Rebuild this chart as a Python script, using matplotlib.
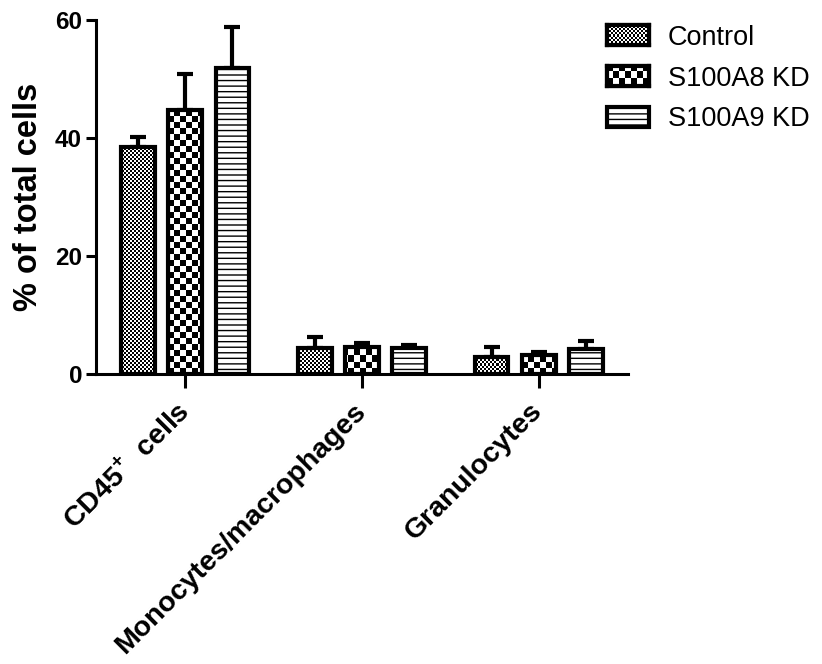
import numpy as np
import matplotlib
matplotlib.use("Agg")
from matplotlib import pyplot as plt
from matplotlib.patches import Patch

plt.rcParams["font.family"] = "Liberation Sans"
plt.rcParams["mathtext.fontset"] = "custom"
plt.rcParams["mathtext.rm"] = "Liberation Sans:bold"
plt.rcParams["mathtext.bf"] = "Liberation Sans:bold"
plt.rcParams["hatch.linewidth"] = 1.0

categories = ["CD45$^{+}$  cells", "Monocytes/macrophages", "Granulocytes"]
groups = ["Control", "S100A8 KD", "S100A9 KD"]
control = [38.4, 4.4, 2.9]
control_err = [1.8, 1.9, 1.6]
a8 = [44.7, 4.6, 3.2]
a8_err = [6.1, 0.7, 0.6]
a9 = [51.8, 4.4, 4.2]
a9_err = [7.0, 0.6, 1.4]

means = [control, a8, a9]
errs = [control_err, a8_err, a9_err]
cells = [2, 6, None]  # checker cell size in pixels, None -> hatch lines


def checker(nx, ny, cell):
    yy, xx = np.mgrid[0:ny, 0:nx]
    return ((xx // cell + yy // cell) % 2).astype(float)


fig = plt.figure(figsize=(8.22, 6.64), dpi=100)
ax = fig.add_axes([96 / 822, 1 - 374 / 664, 532 / 822, 354 / 664])

x = np.arange(len(categories))
width = 0.19
offsets = [-0.267, 0, 0.267]

for i in range(3):
    bars = ax.bar(x + offsets[i], means[i], width,
                  color="white" if cells[i] is None else "none", edgecolor="black",
                  linewidth=3, hatch="---" if cells[i] is None else None, zorder=3)
    ax.errorbar(x + offsets[i], means[i], yerr=[np.zeros(3), errs[i]], fmt="none",
                ecolor="black", elinewidth=3, capsize=6, capthick=3, zorder=1)
    if cells[i] is not None:
        img = checker(532, 354, cells[i])
        for b in bars:
            im = ax.imshow(img, cmap="gray", extent=[0, 1, 0, 1], transform=ax.transAxes,
                           interpolation="nearest", aspect="auto", zorder=2)
            im.set_clip_path(b)

ax.set_xlim(-0.505, 2.505)
ax.set_ylim(0, 60)
ax.set_yticks([0, 20, 40, 60])
ax.set_xticks(x)
ax.set_xticklabels(categories, rotation=45, ha="right", va="center", rotation_mode="anchor",
                   fontsize=20.5, fontweight="bold")
ax.tick_params(axis="y", labelsize=17.5, width=2.2, length=7, pad=3)
ax.tick_params(axis="x", width=2.2, length=10, pad=14)
for lab in ax.get_yticklabels():
    lab.set_fontweight("bold")
ax.set_ylabel("% of total cells", fontsize=23.5, fontweight="bold", labelpad=8)
for s in ["top", "right"]:
    ax.spines[s].set_visible(False)
for s in ["left", "bottom"]:
    ax.spines[s].set_linewidth(2.2)

handles = [Patch(facecolor="white", edgecolor="black", linewidth=3,
                 hatch="---" if c is None else None) for c in cells]
leg = fig.legend(handles, groups, loc="upper left", bbox_to_anchor=(585 / 822, 1 - 3 / 664),
                 frameon=False, fontsize=19.5, handlelength=1.55, handleheight=0.78,
                 labelspacing=0.55, handletextpad=0.7, borderpad=0.3)

fig.canvas.draw()
for h, c in zip(leg.legend_handles, cells):
    if c is None:
        continue
    bb = h.get_window_extent().transformed(fig.transFigure.inverted())
    hax = fig.add_axes([bb.x0, bb.y0, bb.width, bb.height], zorder=10)
    w = int(round(bb.width * 822))
    hh = int(round(bb.height * 664))
    hax.imshow(checker(w, hh, c), cmap="gray", interpolation="nearest", aspect="auto")
    for sp in hax.spines.values():
        sp.set_linewidth(3)
    hax.set_xticks([])
    hax.set_yticks([])

fig.savefig("out.png", dpi=100)
